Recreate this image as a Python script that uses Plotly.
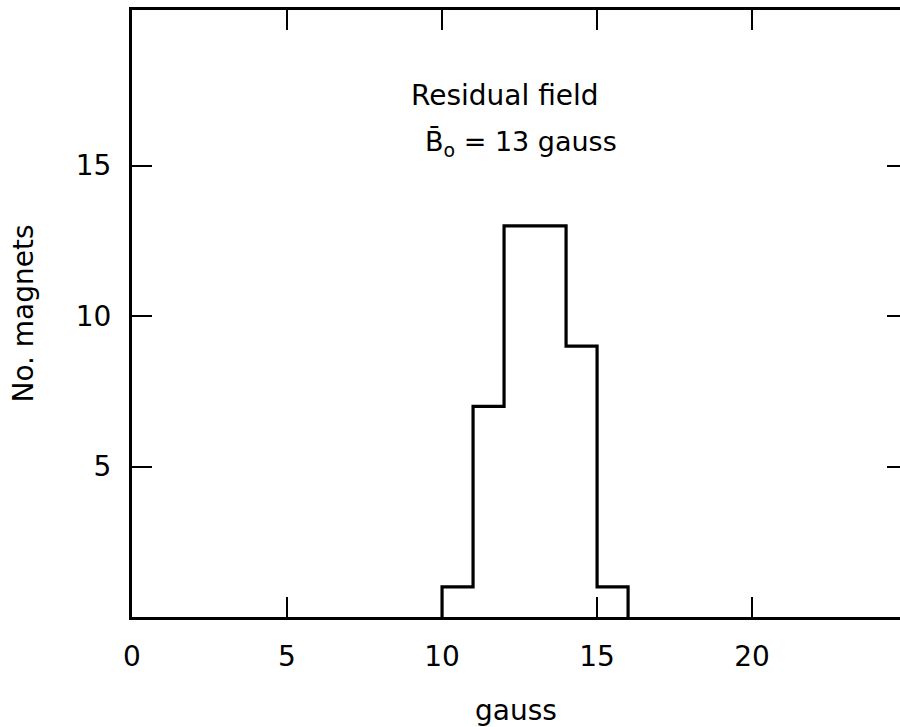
import plotly.graph_objects as go

# Data
bin_edges = [10, 11, 12, 13, 14, 15, 16]
counts = [1, 7, 13, 13, 9, 1]
x_tick_vals = [0, 5, 10, 15, 20]
x_tick_text = ["0", "5", "10", "15", "20"]
y_tick_vals = [5, 10, 15]
y_tick_text = ["5", "10", "15"]

FONT = "DejaVu Sans"

# step outline of the histogram
xs = [bin_edges[0]] + bin_edges[:-1] + [bin_edges[-1]]
ys = [0] + counts + [0]

L, R, T, B = 132, 0, 10, 110
W, H = 900, 727
PW, PH = W - L - R, H - T - B

fig = go.Figure()
fig.add_trace(go.Scatter(
    x=xs, y=ys, mode="lines", line=dict(shape="hv", color="black", width=3.2),
    showlegend=False, hoverinfo="skip"))
# empty trace so that the right-hand tick axis is rendered
fig.add_trace(go.Scatter(x=[], y=[], yaxis="y2", mode="lines",
                         showlegend=False, hoverinfo="skip"))

fig.update_layout(
    width=W, height=H,
    margin=dict(l=L, r=R, t=T, b=B, autoexpand=False),
    paper_bgcolor="white", plot_bgcolor="white",
    font=dict(family=FONT, color="black", size=28),
    xaxis=dict(
        range=[0, 24.77], showgrid=False, zeroline=False, automargin=False,
        showline=True, linewidth=3, linecolor="black", mirror="ticks",
        ticks="inside", ticklen=20, tickwidth=2, tickcolor="black",
        tickvals=x_tick_vals, ticktext=x_tick_text,
        tickfont=dict(size=28, family=FONT), ticklabelstandoff=12,
        title=dict(text="gauss", font=dict(size=28, family=FONT), standoff=30),
    ),
    yaxis=dict(
        range=[0, 20.17], showgrid=False, zeroline=False, automargin=False,
        showline=True, linewidth=3, linecolor="black",
        ticks="inside", ticklen=20, tickwidth=2, tickcolor="black",
        tickvals=y_tick_vals, ticktext=y_tick_text,
        tickfont=dict(size=28, family=FONT), ticklabelstandoff=12,
        title=dict(text="No. magnets", font=dict(size=28, family=FONT), standoff=34),
    ),
    yaxis2=dict(
        overlaying="y", side="right", anchor="x", range=[0, 20.17],
        showgrid=False, zeroline=False, showline=False, automargin=False,
        ticks="inside", ticklen=13, tickwidth=2, tickcolor="black",
        tickvals=y_tick_vals, showticklabels=False,
    ),
)

fig.add_annotation(text="Residual field", xref="paper", yref="paper",
                   x=(505 - L) / PW, y=(H - B - 95) / PH, showarrow=False,
                   xanchor="center", yanchor="middle",
                   font=dict(size=28, family=FONT))
fig.add_annotation(text="B\u0304<sub>o</sub> = 13 gauss", xref="paper", yref="paper",
                   x=(521 - L) / PW, y=(H - B - 143) / PH, showarrow=False,
                   xanchor="center", yanchor="middle",
                   font=dict(size=27, family=FONT))

fig.write_html("out.html", config={"displayModeBar": False},
               post_script="document.body.style.margin='0';document.body.style.overflow='hidden';")
